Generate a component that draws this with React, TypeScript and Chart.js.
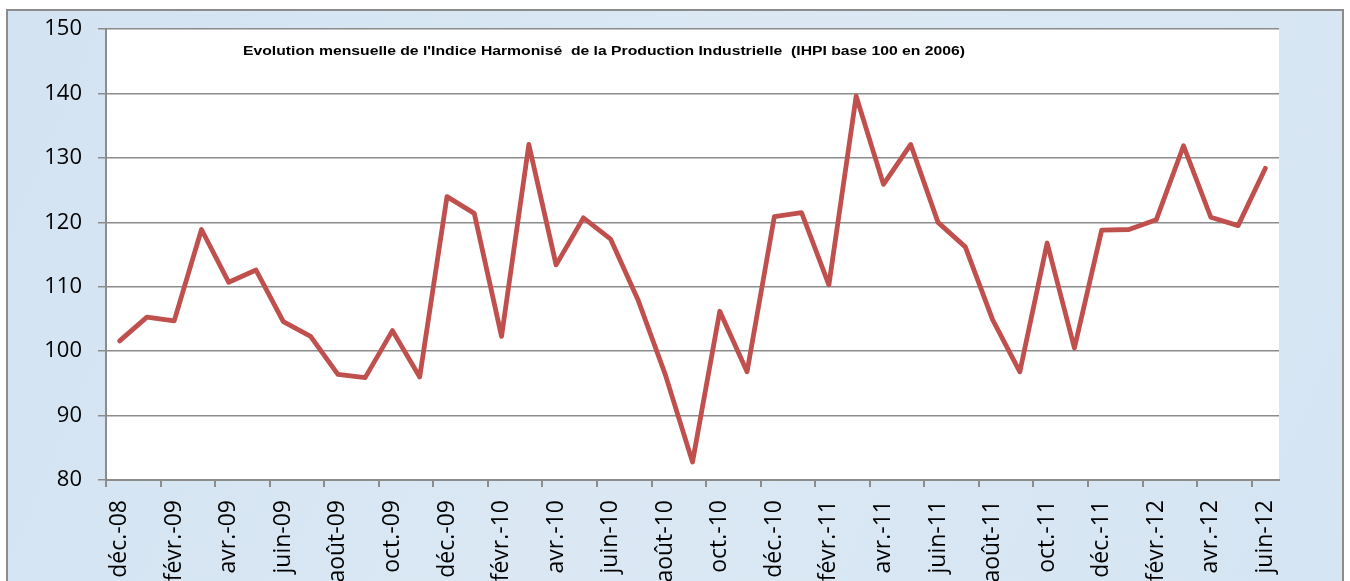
import React, { useEffect, useRef } from "react";
import { Chart, registerables } from "chart.js";

Chart.register(...registerables);

const months: string[] = [
  "déc.-08",
  "janv.-09", "févr.-09", "mars-09", "avr.-09", "mai-09", "juin-09",
  "juil.-09", "août-09", "sept.-09", "oct.-09", "nov.-09", "déc.-09",
  "janv.-10", "févr.-10", "mars-10", "avr.-10", "mai-10", "juin-10",
  "juil.-10", "août-10", "sept.-10", "oct.-10", "nov.-10", "déc.-10",
  "janv.-11", "févr.-11", "mars-11", "avr.-11", "mai-11", "juin-11",
  "juil.-11", "août-11", "sept.-11", "oct.-11", "nov.-11", "déc.-11",
  "janv.-12", "févr.-12", "mars-12", "avr.-12", "mai-12", "juin-12",
];

const ihpi: number[] = [
  101.6,
  105.3, 104.7, 118.9, 110.7, 112.6, 104.6,
  102.3, 96.4, 95.9, 103.2, 96.0, 124.0,
  121.4, 102.3, 132.1, 113.4, 120.7, 117.4,
  108.0, 96.4, 82.8, 106.2, 96.8, 120.9,
  121.5, 110.3, 139.6, 125.9, 132.1, 120.0,
  116.2, 104.9, 96.8, 116.8, 100.5, 118.8,
  118.9, 120.4, 131.9, 120.8, 119.5, 128.4,
];

const yMin = 80;
const yMax = 150;
const yStep = 10;

const titleText =
  "Evolution mensuelle de l'Indice Harmonisé  de la Production Industrielle  (IHPI base 100 en 2006)";

const W = 1350;
const H = 581;
const axisGray = "#8c8c8c";

const framePlugin = {
  id: "framePlugin",
  beforeDraw(chart: any) {
    const { ctx, chartArea } = chart;
    ctx.save();
    ctx.fillStyle = "#ffffff";
    ctx.fillRect(0, 0, W, H);
    const grad = ctx.createLinearGradient(0, 0, W, H);
    grad.addColorStop(0, "#d3e3f2");
    grad.addColorStop(0.5, "#dbe8f4");
    grad.addColorStop(1, "#d6e5f3");
    ctx.fillStyle = grad;
    ctx.fillRect(8, 11, 1334, H);
    ctx.strokeStyle = axisGray;
    ctx.lineWidth = 2;
    ctx.strokeRect(7, 10, 1336, H + 20);
    ctx.fillStyle = "#ffffff";
    ctx.fillRect(
      chartArea.left,
      chartArea.top,
      chartArea.right - chartArea.left,
      chartArea.bottom - chartArea.top
    );
    ctx.restore();
  },
  afterDraw(chart: any) {
    const { ctx, chartArea } = chart;
    ctx.save();
    ctx.font = "bold 12px 'Liberation Sans', Arial, sans-serif";
    ctx.fillStyle = "#000000";
    ctx.textBaseline = "middle";
    ctx.textAlign = "left";
    const w = ctx.measureText(titleText).width;
    const target = 722;
    ctx.translate(chartArea.left + 137, chartArea.top + 22);
    ctx.scale(target / w, 1);
    ctx.fillText(titleText, 0, 0);
    ctx.restore();
  },
};

export default function App() {
  const ref = useRef<HTMLCanvasElement | null>(null);

  useEffect(() => {
    if (!ref.current) return;
    const chart = new Chart(ref.current, {
      type: "line",
      data: {
        labels: months,
        datasets: [
          {
            data: ihpi,
            borderColor: "#c0504d",
            backgroundColor: "#c0504d",
            borderWidth: 4.8,
            pointRadius: 0,
            tension: 0,
            borderJoinStyle: "round",
            borderCapStyle: "round",
          },
        ],
      },
      options: {
        animation: false,
        responsive: false,
        devicePixelRatio: 1,
        layout: { padding: { left: 0, top: 26, right: 71, bottom: 0 } },
        plugins: {
          legend: { display: false },
          tooltip: { enabled: false },
          title: { display: false },
        },
        scales: {
          x: {
            type: "category",
            offset: true,
            grid: {
              offset: true,
              drawOnChartArea: false,
              drawTicks: true,
              tickLength: 7,
              color: (c: any) => (c.index % 2 === 0 ? axisGray : "rgba(0,0,0,0)"),
              lineWidth: 2,
            },
            border: { display: true, color: axisGray, width: 2 },
            ticks: {
              autoSkip: false,
              maxRotation: 90,
              minRotation: 90,
              padding: 13,
              color: "#000000",
              font: { family: "'Open Sans', sans-serif", size: 23 },
              callback: (_v: any, i: number) => (i % 2 === 0 ? months[i] : ""),
            },
            afterFit: (scale: any) => {
              scale.height = 101;
            },
          },
          y: {
            min: yMin,
            max: yMax,
            grid: {
              color: axisGray,
              lineWidth: 1.5,
              drawTicks: true,
              tickLength: 8,
            },
            border: { display: true, color: axisGray, width: 2 },
            ticks: {
              stepSize: yStep,
              padding: 16,
              color: "#000000",
              font: { family: "'Open Sans', sans-serif", size: 22 },
            },
            afterFit: (scale: any) => {
              scale.width = 106;
            },
          },
        },
      },
      plugins: [framePlugin],
    } as any);
    return () => chart.destroy();
  }, []);

  return (
    <div
      style={{
        position: "fixed",
        left: 0,
        top: 0,
        width: W,
        height: H,
        overflow: "hidden",
        background: "#ffffff",
      }}
    >
      <canvas ref={ref} width={W} height={H} style={{ display: "block", width: W, height: H }} />
    </div>
  );
}
